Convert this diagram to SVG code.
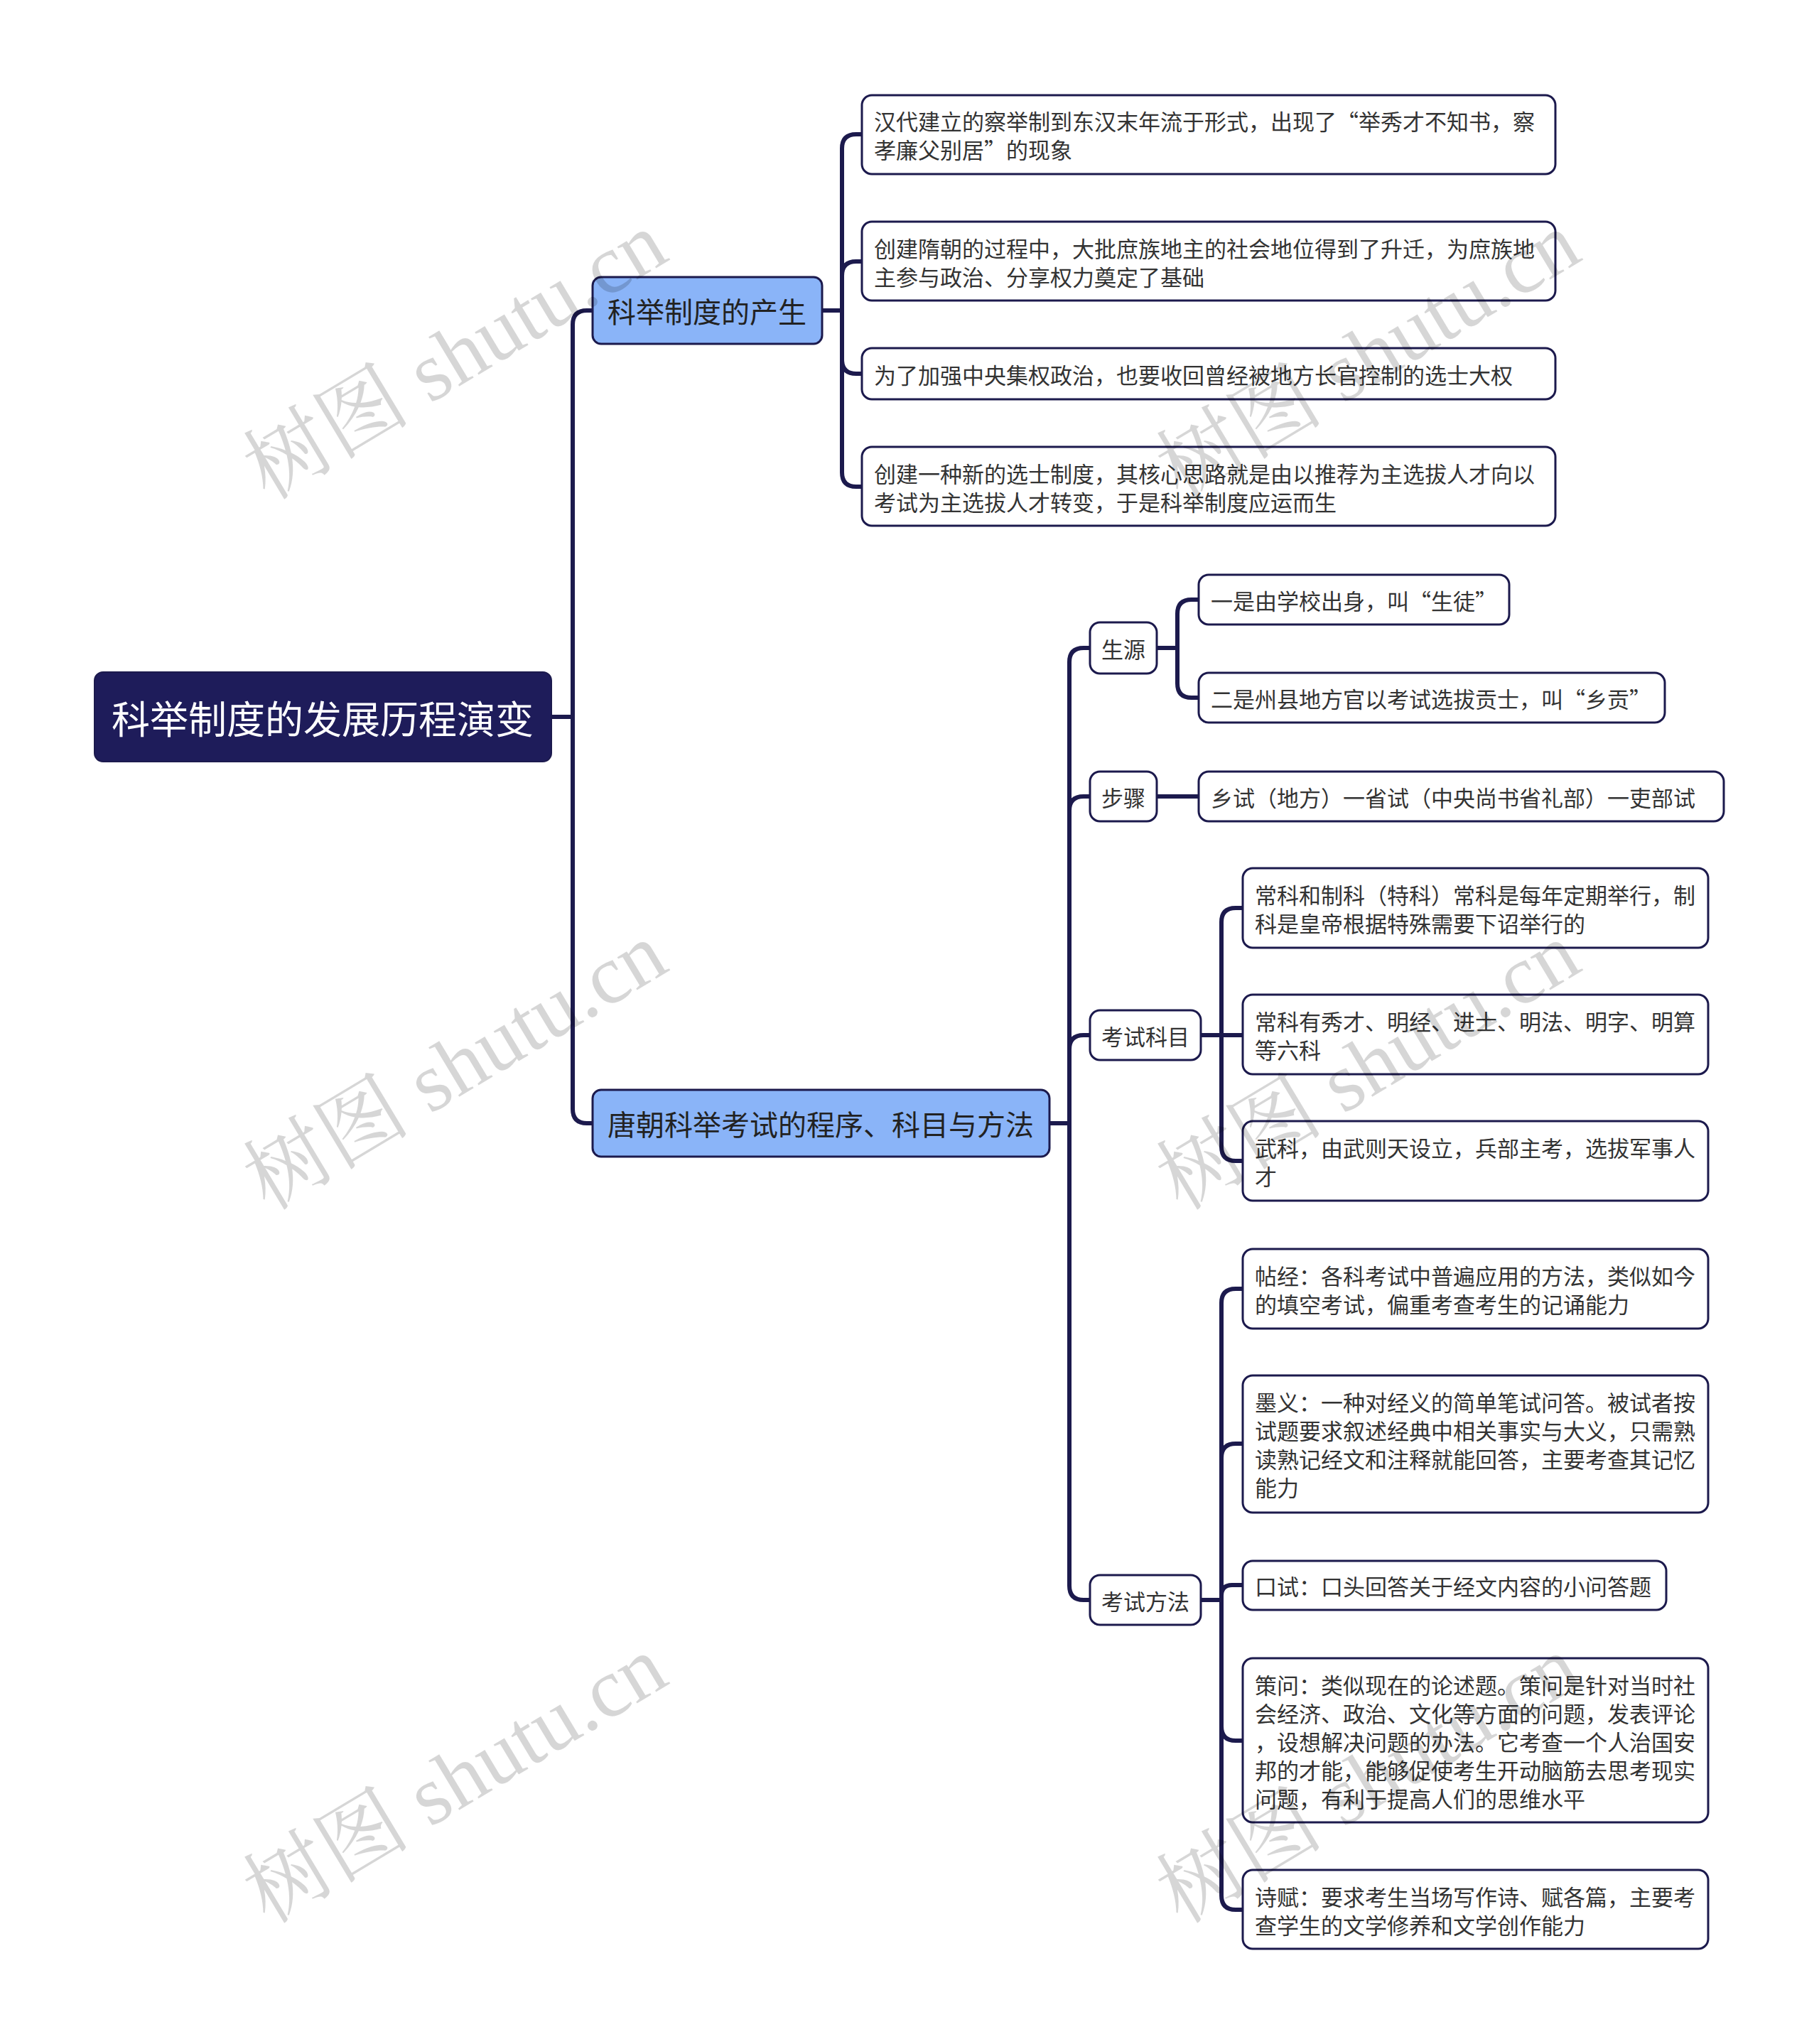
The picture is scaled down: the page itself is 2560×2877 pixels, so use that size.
<svg xmlns="http://www.w3.org/2000/svg" width="2560" height="2877" viewBox="0 0 2560 2877">
<style>
.conn{fill:none;stroke:#1c1a4d;stroke-width:6;stroke-linejoin:round}
.leaf{fill:#ffffff;stroke:#1c1a4d;stroke-width:3}
.l1{fill:#8ab4f8;stroke:#1c1a4d;stroke-width:3}
.root{fill:#1e1c5a;stroke:#1c1a4d;stroke-width:2}
.t{font-family:"Noto Sans CJK SC","Noto Sans",sans-serif;font-size:31px;fill:#333333;dominant-baseline:central}
.tl1{font-family:"Noto Sans CJK SC","Noto Sans",sans-serif;font-size:40px;fill:#222222;dominant-baseline:central;text-anchor:middle}
.tr{font-family:"Noto Sans CJK SC","Noto Sans",sans-serif;font-size:54px;fill:#ffffff;dominant-baseline:central;text-anchor:middle}
.c{text-anchor:middle}
.wm{font-family:"Liberation Serif","Noto Serif CJK SC","Noto Sans CJK SC",serif;font-size:118px;fill:#000000;fill-opacity:0.16}
</style>
<rect width="2560" height="2877" fill="#ffffff"/>

<g id="connectors">
  <!-- root -->
  <path class="conn" d="M776 1009 H806"/>
  <path class="conn" d="M806 1009 V457 Q806 437 826 437 H834"/>
  <path class="conn" d="M806 1009 V1561 Q806 1581 826 1581 H834"/>
  <!-- L1 node 1 -->
  <path class="conn" d="M1157 437 H1185"/>
  <path class="conn" d="M1185 437 V209 Q1185 189 1205 189 H1213"/>
  <path class="conn" d="M1185 437 V388 Q1185 368 1205 368 H1213"/>
  <path class="conn" d="M1185 437 V506 Q1185 526 1205 526 H1213"/>
  <path class="conn" d="M1185 437 V665 Q1185 685 1205 685 H1213"/>
  <!-- L1 node 2 -->
  <path class="conn" d="M1477 1581 H1505"/>
  <path class="conn" d="M1505 1581 V932 Q1505 912 1525 912 H1534"/>
  <path class="conn" d="M1505 1581 V1141 Q1505 1121 1525 1121 H1534"/>
  <path class="conn" d="M1505 1581 V1477 Q1505 1457 1525 1457 H1534"/>
  <path class="conn" d="M1505 1581 V2232 Q1505 2252 1525 2252 H1534"/>
  <!-- 生源 -->
  <path class="conn" d="M1628 912 H1657"/>
  <path class="conn" d="M1657 912 V864 Q1657 844 1677 844 H1687"/>
  <path class="conn" d="M1657 912 V962 Q1657 982 1677 982 H1687"/>
  <!-- 步骤 -->
  <path class="conn" d="M1628 1121 H1687"/>
  <!-- 考试科目 -->
  <path class="conn" d="M1690 1457 H1719"/>
  <path class="conn" d="M1719 1457 V1298 Q1719 1278 1739 1278 H1749"/>
  <path class="conn" d="M1719 1457 H1749"/>
  <path class="conn" d="M1719 1457 V1614 Q1719 1634 1739 1634 H1749"/>
  <!-- 考试方法 -->
  <path class="conn" d="M1690 2252 H1719"/>
  <path class="conn" d="M1719 2252 V1834 Q1719 1814 1739 1814 H1749"/>
  <path class="conn" d="M1719 2252 V2052 Q1719 2032 1739 2032 H1749"/>
  <path class="conn" d="M1719 2252 V2246 Q1719 2231 1734 2231 H1749"/>
  <path class="conn" d="M1719 2252 V2430 Q1719 2450 1739 2450 H1749"/>
  <path class="conn" d="M1719 2252 V2668 Q1719 2688 1739 2688 H1749"/>
</g>

<g id="root">
  <rect class="root" x="133" y="946" width="643" height="126" rx="12"/>
  <text class="tr" x="454" y="1009">科举制度的发展历程演变</text>
</g>

<g id="n-chansheng">
  <rect class="l1" x="834" y="390" width="323" height="94" rx="12"/>
  <text class="tl1" x="995" y="437">科举制度的产生</text>
</g>
<g id="n-a1">
  <rect class="leaf" x="1213" y="134" width="976" height="111" rx="14"/>
  <text class="t" x="1230" y="169">汉代建立的察举制到东汉末年流于形式，出现了“举秀才不知书，察</text>
  <text class="t" x="1230" y="209">孝廉父别居”的现象</text>
</g>
<g id="n-a2">
  <rect class="leaf" x="1213" y="312" width="976" height="111" rx="14"/>
  <text class="t" x="1230" y="348">创建隋朝的过程中，大批庶族地主的社会地位得到了升迁，为庶族地</text>
  <text class="t" x="1230" y="388">主参与政治、分享权力奠定了基础</text>
</g>
<g id="n-a3">
  <rect class="leaf" x="1213" y="490" width="976" height="72" rx="14"/>
  <text class="t" x="1230" y="526">为了加强中央集权政治，也要收回曾经被地方长官控制的选士大权</text>
</g>
<g id="n-a4">
  <rect class="leaf" x="1213" y="629" width="976" height="111" rx="14"/>
  <text class="t" x="1230" y="665">创建一种新的选士制度，其核心思路就是由以推荐为主选拔人才向以</text>
  <text class="t" x="1230" y="705">考试为主选拔人才转变，于是科举制度应运而生</text>
</g>

<g id="n-tang">
  <rect class="l1" x="834" y="1534" width="643" height="94" rx="12"/>
  <text class="tl1" x="1155" y="1581">唐朝科举考试的程序、科目与方法</text>
</g>

<g id="n-shengyuan">
  <rect class="leaf" x="1534" y="876" width="94" height="72" rx="14"/>
  <text class="t c" x="1581" y="912">生源</text>
</g>
<g id="n-b1">
  <rect class="leaf" x="1687" y="809" width="437" height="70" rx="14"/>
  <text class="t" x="1704" y="844">一是由学校出身，叫“生徒”</text>
</g>
<g id="n-b2">
  <rect class="leaf" x="1687" y="947" width="656" height="70" rx="14"/>
  <text class="t" x="1704" y="982">二是州县地方官以考试选拔贡士，叫“乡贡”</text>
</g>

<g id="n-buzhou">
  <rect class="leaf" x="1534" y="1086" width="94" height="70" rx="14"/>
  <text class="t c" x="1581" y="1121">步骤</text>
</g>
<g id="n-b3">
  <rect class="leaf" x="1687" y="1086" width="739" height="70" rx="14"/>
  <text class="t" x="1704" y="1121">乡试（地方）一省试（中央尚书省礼部）一吏部试</text>
</g>

<g id="n-kemu">
  <rect class="leaf" x="1534" y="1422" width="156" height="70" rx="14"/>
  <text class="t c" x="1612" y="1457">考试科目</text>
</g>
<g id="n-c1">
  <rect class="leaf" x="1749" y="1222" width="655" height="112" rx="14"/>
  <text class="t" x="1766" y="1258">常科和制科（特科）常科是每年定期举行，制</text>
  <text class="t" x="1766" y="1298">科是皇帝根据特殊需要下诏举行的</text>
</g>
<g id="n-c2">
  <rect class="leaf" x="1749" y="1400" width="655" height="112" rx="14"/>
  <text class="t" x="1766" y="1436">常科有秀才、明经、进士、明法、明字、明算</text>
  <text class="t" x="1766" y="1476">等六科</text>
</g>
<g id="n-c3">
  <rect class="leaf" x="1749" y="1578" width="655" height="112" rx="14"/>
  <text class="t" x="1766" y="1614">武科，由武则天设立，兵部主考，选拔军事人</text>
  <text class="t" x="1766" y="1654">才</text>
</g>

<g id="n-fangfa">
  <rect class="leaf" x="1534" y="2217" width="156" height="70" rx="14"/>
  <text class="t c" x="1612" y="2252">考试方法</text>
</g>
<g id="n-d1">
  <rect class="leaf" x="1749" y="1758" width="655" height="112" rx="14"/>
  <text class="t" x="1766" y="1794">帖经：各科考试中普遍应用的方法，类似如今</text>
  <text class="t" x="1766" y="1834">的填空考试，偏重考查考生的记诵能力</text>
</g>
<g id="n-d2">
  <rect class="leaf" x="1749" y="1936" width="655" height="193" rx="14"/>
  <text class="t" x="1766" y="1972">墨义：一种对经义的简单笔试问答。被试者按</text>
  <text class="t" x="1766" y="2012">试题要求叙述经典中相关事实与大义，只需熟</text>
  <text class="t" x="1766" y="2052">读熟记经文和注释就能回答，主要考查其记忆</text>
  <text class="t" x="1766" y="2092">能力</text>
</g>
<g id="n-d3">
  <rect class="leaf" x="1749" y="2197" width="596" height="69" rx="14"/>
  <text class="t" x="1766" y="2231">口试：口头回答关于经文内容的小问答题</text>
</g>
<g id="n-d4">
  <rect class="leaf" x="1749" y="2334" width="655" height="231" rx="14"/>
  <text class="t" x="1766" y="2370">策问：类似现在的论述题。策问是针对当时社</text>
  <text class="t" x="1766" y="2410">会经济、政治、文化等方面的问题，发表评论</text>
  <text class="t" x="1766" y="2450">，设想解决问题的办法。它考查一个人治国安</text>
  <text class="t" x="1766" y="2490">邦的才能，能够促使考生开动脑筋去思考现实</text>
  <text class="t" x="1766" y="2530">问题，有利于提高人们的思维水平</text>
</g>
<g id="n-d5">
  <rect class="leaf" x="1749" y="2632" width="655" height="111" rx="14"/>
  <text class="t" x="1766" y="2668">诗赋：要求考生当场写作诗、赋各篇，主要考</text>
  <text class="t" x="1766" y="2708">查学生的文学修养和文学创作能力</text>
</g>

<g id="watermarks">
  <text class="wm" text-anchor="middle" transform="translate(661 535) rotate(-31)">树图 shutu.cn</text>
  <text class="wm" text-anchor="middle" transform="translate(1946 535) rotate(-31)">树图 shutu.cn</text>
  <text class="wm" text-anchor="middle" transform="translate(661 1535) rotate(-31)">树图 shutu.cn</text>
  <text class="wm" text-anchor="middle" transform="translate(1946 1535) rotate(-31)">树图 shutu.cn</text>
  <text class="wm" text-anchor="middle" transform="translate(661 2539) rotate(-31)">树图 shutu.cn</text>
  <text class="wm" text-anchor="middle" transform="translate(1946 2539) rotate(-31)">树图 shutu.cn</text>
</g>
</svg>
